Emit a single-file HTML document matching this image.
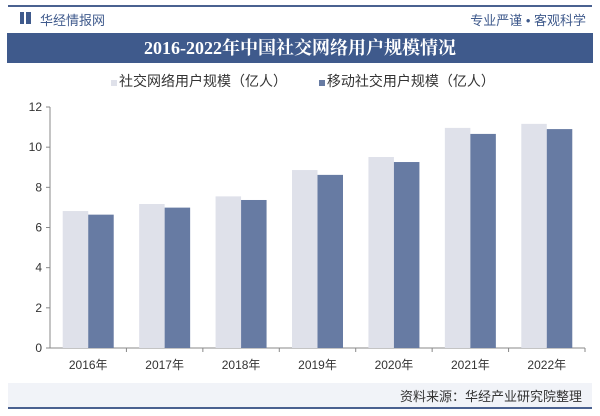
<!DOCTYPE html>
<html><head><meta charset="utf-8"><style>
body{margin:0;width:600px;height:416px;background:#fff;position:relative;overflow:hidden;font-family:"Liberation Sans","Noto Sans CJK SC",sans-serif;}
.abs{position:absolute;}
</style></head><body>
<div class="abs" style="left:8px;top:5px;width:584px;height:2px;background:#4a6190"></div>
<div class="abs" style="left:20px;top:12px;width:4px;height:12px;background:#3f5a8c"></div>
<div class="abs" style="left:26px;top:12px;width:5px;height:12px;background:#3f5a8c"></div>
<div class="abs" style="left:40px;top:10px;font-size:13px;color:#3f5a8c">华经情报网</div>
<div class="abs" style="right:14px;top:10px;font-size:13px;color:#3f5a8c">专业严谨 • 客观科学</div>
<div class="abs" style="left:7px;top:33px;width:586px;height:30px;background:#3f5a8c;color:#fff;text-align:center;font:bold 18px/30px 'Liberation Serif','Noto Serif CJK SC',serif">2016-2022年中国社交网络用户规模情况</div>
<div class="abs" style="left:111px;top:71px;font-size:14px;color:#333;white-space:nowrap">
<span><span style="display:inline-block;width:6px;height:6px;background:#dfe1ea;margin-right:2px"></span>社交网络用户规模（亿人）</span>
<span style="margin-left:28px"><span style="display:inline-block;width:6px;height:6px;background:#677ba3;margin-right:2px"></span>移动社交用户规模（亿人）</span>
</div>
<svg class="abs" style="left:0;top:0" width="600" height="416" id="chart"></svg>
<div class="abs" style="left:8px;top:383px;width:584px;height:24px;background:#f1f3f8"></div>
<div class="abs" style="left:8px;top:407px;width:584px;height:2px;background:#4a6190"></div>
<div class="abs" style="right:18px;top:386px;font-size:13px;color:#333">资料来源：华经产业研究院整理</div>
<script>
const categories=["2016年","2017年","2018年","2019年","2020年","2021年","2022年"];
const socialUsers=[6.82,7.17,7.55,8.86,9.51,10.96,11.16];
const mobileUsers=[6.64,6.99,7.37,8.62,9.26,10.66,10.9];
const yTicks=[0,2,4,6,8,10,12];
const svg=document.getElementById('chart');
const NS='http://www.w3.org/2000/svg';
const x0=50,x1=585,yB=348,yT=107,yMax=12;
const band=(x1-x0)/categories.length;
const y=v=>yB-(v/yMax)*(yB-yT);
function mk(t,a){const e=document.createElementNS(NS,t);for(const k in a)e.setAttribute(k,a[k]);svg.appendChild(e);return e;}
let ax=mk('line',{x1:x0,y1:yT,x2:x0,y2:yB,stroke:'#888'});


let bx=mk('line',{x1:x0,y1:yB,x2:x1,y2:yB,stroke:'#888'});


yTicks.forEach(t=>{
  mk('line',{x1:x0-4,y1:y(t),x2:x0,y2:y(t),stroke:'#888'});
  const tx=mk('text',{x:x0-8,y:y(t)+4,'text-anchor':'end','font-size':12,fill:'#333','font-family':'Liberation Sans'});
  tx.textContent=t;
  
  
});
categories.forEach((c,i)=>{
  const cx=x0+band*(i+0.5);
  mk('line',{x1:x0+band*(i+1),y1:yB,x2:x0+band*(i+1),y2:yB+4,stroke:'#888'});
  const r1=mk('rect',{x:cx-25.5,y:y(socialUsers[i]),width:25.5,height:yB-y(socialUsers[i]),fill:'#dfe1ea'});
  
  
  const r2=mk('rect',{x:cx,y:y(mobileUsers[i]),width:25.5,height:yB-y(mobileUsers[i]),fill:'#677ba3'});
  
  
  const tx=mk('text',{x:cx,y:yB+21,'text-anchor':'middle','font-size':12,fill:'#333','font-family':'Liberation Sans, Noto Sans CJK SC, sans-serif'});
  tx.textContent=c;
  
  
});
</script>
</body></html>
